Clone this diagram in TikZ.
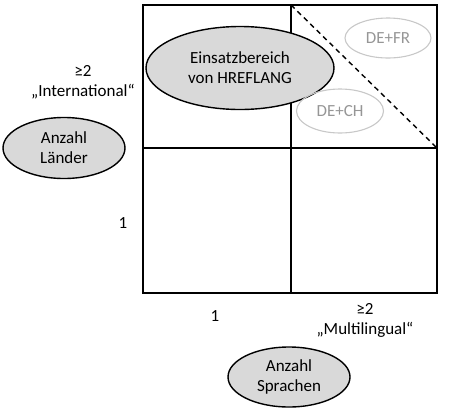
\documentclass[tikz,border=0pt]{standalone}
\usepackage{fontspec}
\setmainfont{Carlito}
\usetikzlibrary{shapes.geometric}
\definecolor{ellfill}{RGB}{217,217,217}
\definecolor{lightline}{RGB}{200,200,200}
\definecolor{lighttext}{RGB}{150,150,150}
\begin{document}
\begin{tikzpicture}[x=1pt,y=-1pt,
  txt/.style={font=\fontsize{17}{20}\selectfont, align=center, inner sep=0pt},
  bigell/.style={ellipse, draw=black, line width=1.4pt, fill=ellfill, inner sep=0pt, txt},
  ghost/.style={ellipse, draw=lightline, line width=1.1pt, inner sep=0pt, txt, text=lighttext},
  grid/.style={draw=black, line width=1.4pt}]
\useasboundingbox (0,0) rectangle (449,413);
% quadrant frame
\coordinate (tl) at (143,5);
\coordinate (br) at (437,293);
\coordinate (tm) at (291,5);
\coordinate (bm) at (291,293);
\coordinate (ml) at (143,148);
\coordinate (mr) at (437,148);
\draw[grid] (tl) rectangle (br);
\draw[grid] (tm) -- (bm);
\draw[grid] (ml) -- (mr);
\draw[line width=1.4pt, dash pattern=on 5pt off 4pt] (tm) -- (mr);
% ellipses
\node[bigell, minimum width=188pt, minimum height=83pt] (hl) at (240,68) {Einsatzbereich\\von HREFLANG};
\node[ghost, minimum width=86pt, minimum height=40pt] (fr) at (388,38) {DE+FR};
\node[ghost, minimum width=87pt, minimum height=44pt] (ch) at (340,111) {DE+CH};
\node[bigell, minimum width=122pt, minimum height=61pt] (land) at (64,148) {Anzahl\\Länder};
\node[bigell, minimum width=122pt, minimum height=60pt] (spr) at (289,377) {Anzahl\\Sprachen};
% labels
\node[txt] (intl) at (83,82) {≥2\\„International“};
\node[txt] (one1) at (123,223) {1};
\node[txt] (one2) at (215,316) {1};
\node[txt] (mult) at (365,320) {≥2\\„Multilingual“};
\end{tikzpicture}
\end{document}
